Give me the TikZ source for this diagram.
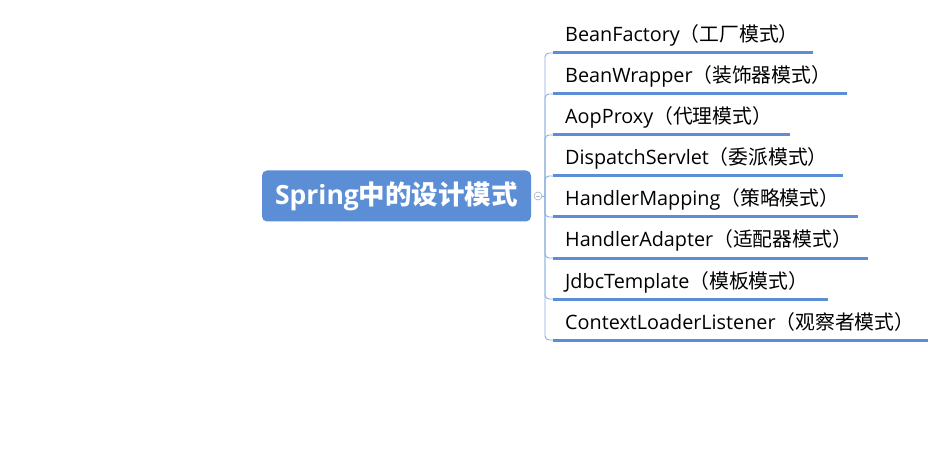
\documentclass[tikz,border=0pt]{standalone}
\usepackage{fontspec}
\usetikzlibrary{calc}
\setmainfont{Open Sans}
\newfontfamily\cjk{Noto Sans CJK SC}
\definecolor{rootblue}{HTML}{5B8ED5}
\definecolor{lineblue}{HTML}{5B8ED5}
\definecolor{branchblue}{HTML}{8AAEDF}
\definecolor{circgray}{HTML}{A9B9CC}
\begin{document}
\begin{tikzpicture}[x=1pt,y=-1pt,
  root/.style={fill=rootblue, rounded corners=5pt, minimum width=269pt, minimum height=51pt, inner sep=0pt, text=white, font=\fontsize{26.5}{30}\selectfont\bfseries},
  item/.style={anchor=base west, inner sep=0pt, font=\fontsize{19.8}{23}\selectfont},
  branch/.style={draw=branchblue, line width=0.9pt, rounded corners=4pt},
  uline/.style={draw=lineblue, line width=3pt},
  collapse/.style={circle, draw=circgray, fill=white, line width=0.7pt, minimum size=8pt, inner sep=0pt}
]
\useasboundingbox (0,0) rectangle (946,476);
\node[root] (root) at (396.5,196) {Spring{\cjk\bfseries 中的设计模式}};
\node[collapse] (col) at (538,196) {};
\draw[circgray, line width=0.7pt] ($(col.center)+(-2.3,0)$) -- ($(col.center)+(2.3,0)$);
\coordinate (jn) at (545,196);
\draw[branch] (col.east) -- (jn);

\foreach \i/\y/\r/\t in {
  1/53/813/{BeanFactory{\cjk（工厂模式）}},
  2/94/847/{BeanWrapper{\cjk（装饰器模式）}},
  3/135/790/{AopProxy{\cjk（代理模式）}},
  4/176/843/{DispatchServlet{\cjk（委派模式）}},
  5/217/858/{HandlerMapping{\cjk（策略模式）}},
  6/258/868/{HandlerAdapter{\cjk（适配器模式）}},
  7/299/828/{JdbcTemplate{\cjk（模板模式）}},
  8/340/928/{ContextLoaderListener{\cjk（观察者模式）}}}{
  \node[item] (t\i) at (565,\y-11) {\t};
  \coordinate (us\i) at (553,\y);
  \coordinate (ue\i) at (\r,\y);
  \draw[branch] (jn) |- (us\i);
  \draw[uline] (us\i) -- (ue\i);
}
\end{tikzpicture}
\end{document}
